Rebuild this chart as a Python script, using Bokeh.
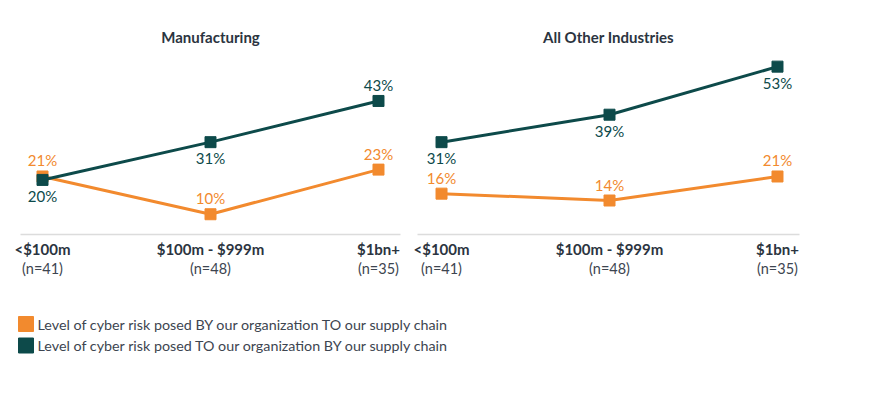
from bokeh.plotting import figure
from bokeh.layouts import column, row
from bokeh.models import LinearAxis, FixedTicker, Range1d, ColumnDataSource
from bokeh.embed import file_html
from bokeh.resources import INLINE
from bokeh.core.properties import value

# ---- data ----
categories = ["<$100m", "$100m - $999m", "$1bn+"]
sample_sizes = ["(n=41)", "(n=48)", "(n=35)"]
panels = ["Manufacturing", "All Other Industries"]
by_org_to_chain = {"Manufacturing": [21, 10, 23], "All Other Industries": [16, 14, 21]}
to_org_by_chain = {"Manufacturing": [20, 31, 43], "All Other Industries": [31, 39, 53]}
series_names = ["Level of cyber risk posed BY our organization TO our supply chain",
                "Level of cyber risk posed TO our organization BY our supply chain"]

# label placement (style): -1 above, +1 below
orange_side = {"Manufacturing": [-1, -1, -1], "All Other Industries": [-1, -1, -1]}
teal_side = {"Manufacturing": [1, 1, -1], "All Other Industries": [1, 1, 1]}

ORANGE = "#f28a2e"
TEAL = "#0d4a4a"
TITLE_C = "#2b3440"
TEXT_C = "#3d4550"
FONT = "Lato"

def make_panel(name, width, bl, br, xstart, xend):
    xs = list(range(len(categories)))
    p = figure(width=width, height=290, output_backend="svg", toolbar_location=None,
               x_range=Range1d(xstart, xend), y_range=Range1d(4.1, 57.7),
               min_border_left=bl, min_border_right=br, min_border_top=50,
               min_border_bottom=56, x_axis_location=None, y_axis_location=None)
    p.outline_line_color = None
    p.grid.grid_line_color = None
    p.background_fill_color = None
    p.border_fill_color = None
    p.title.text = name
    p.title.align = "center"
    p.title.text_font = FONT
    p.title.text_font_size = "15px"
    p.title.text_font_style = "bold"
    p.title.text_color = TITLE_C
    p.title.standoff = 10

    ax = LinearAxis(ticker=FixedTicker(ticks=xs),
                    major_label_overrides={i: c for i, c in enumerate(categories)})
    ax.axis_line_color = "#dcdcdc"
    ax.axis_line_width = 1.5
    ax.major_tick_line_color = None
    ax.minor_tick_line_color = None
    ax.major_tick_out = 0
    ax.major_tick_in = 0
    ax.minor_tick_out = 0
    ax.major_label_standoff = 5
    ax.major_label_text_font = FONT
    ax.major_label_text_font_size = "15px"
    ax.major_label_text_font_style = "bold"
    ax.major_label_text_color = TITLE_C
    p.add_layout(ax, "below")

    ax2 = LinearAxis(ticker=FixedTicker(ticks=xs),
                     major_label_overrides={i: c for i, c in enumerate(sample_sizes)})
    ax2.axis_line_color = None
    ax2.major_tick_line_color = None
    ax2.minor_tick_line_color = None
    ax2.major_tick_out = 0
    ax2.major_tick_in = 0
    ax2.minor_tick_out = 0
    ax2.major_label_standoff = -1
    ax2.major_label_text_font = FONT
    ax2.major_label_text_font_size = "14.5px"
    ax2.major_label_text_color = TEXT_C
    p.add_layout(ax2, "below")

    for vals, sides, col in [(by_org_to_chain[name], orange_side[name], ORANGE),
                             (to_org_by_chain[name], teal_side[name], TEAL)]:
        src = ColumnDataSource(dict(x=xs, y=vals, lab=[f"{v}%" for v in vals],
                                    off=[s * 16 for s in sides]))
        p.line("x", "y", source=src, line_color=col, line_width=3)
        p.scatter("x", "y", source=src, marker="square", size=11, fill_color=col, line_color=col)
        p.text("x", "y", text="lab", source=src, y_offset="off", text_align="center",
               text_baseline="middle", text_color=col, text_font=value(FONT),
               text_font_size="15px")
    return p

p1 = make_panel(panels[0], 410, 20, 10, -0.131, 2.131)
p2 = make_panel(panels[1], 409, 7, 20, -0.143, 2.131)

# legend figure
leg = figure(width=819, height=100, output_backend="svg", toolbar_location=None,
             x_range=Range1d(0, 819), y_range=Range1d(100, 0),
             min_border=0, x_axis_location=None, y_axis_location=None)
leg.outline_line_color = None
leg.grid.grid_line_color = None
leg.border_fill_color = None
leg.background_fill_color = None
lsrc = ColumnDataSource(dict(x=[25.5, 25.5], y=[33.5, 55], c=[ORANGE, TEAL], t=series_names))
leg.scatter("x", "y", source=lsrc, marker="square", size=15, fill_color="c", line_color="c")
leg.text("x", "y", text="t", source=lsrc, x_offset=11.5, text_baseline="middle",
         text_color=TEXT_C, text_font=value(FONT), text_font_size="14.3px")

layout = column(row(p1, p2), leg)
open("out.html", "w").write(file_html(layout, INLINE))
